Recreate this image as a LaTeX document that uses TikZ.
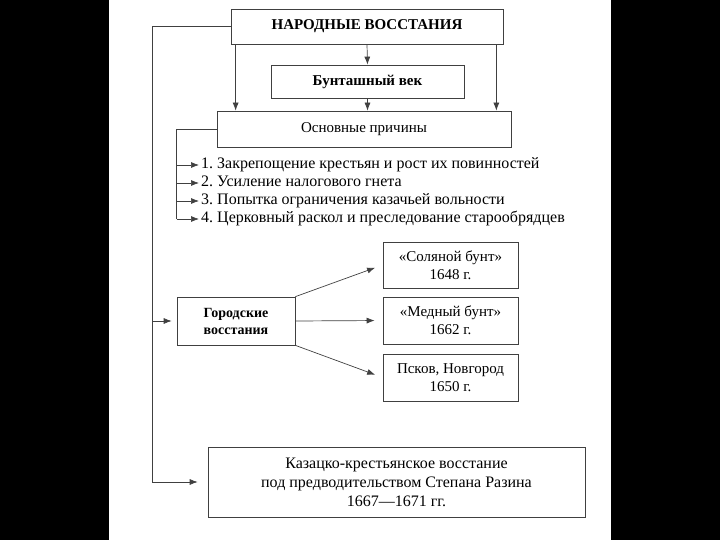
\documentclass[tikz,border=0pt]{standalone}
\usepackage{fontspec}
\setmainfont{Liberation Serif}
\usetikzlibrary{arrows.meta}

\tikzset{
  box/.style={draw=black!75, line width=0.7pt, align=center, inner sep=2pt,
    font=\fontsize{15}{18}\selectfont},
  boldbox/.style={box, font=\fontsize{15}{18}\selectfont\bfseries},
  cause/.style={anchor=west, inner sep=2pt, text height=10.5pt, text depth=3.5pt,
    font=\fontsize{16}{18}\selectfont},
  link/.style={draw=black!75, line width=0.7pt},
  arr/.style={-{Latex[length=8pt,width=6pt]}},
}

\begin{document}
\frenchspacing
\begin{tikzpicture}[x=1pt, y=-1pt]
    \useasboundingbox (0,0) rectangle (720,540);
    \fill[black] (0,0) rectangle (109,540);
    \fill[black] (611,0) rectangle (720,540);

    \node[boldbox, minimum width=272pt, minimum height=35pt] (title) at (367,26.5) {НАРОДНЫЕ ВОССТАНИЯ};
    \node[boldbox, minimum width=193pt, minimum height=33pt] (bunt) at (367.5,81.5) {Бунташный век};
    \node[box, minimum width=294pt, minimum height=36pt] (osn) at (364,129) {Основные причины};

    \draw[link, arr] (title.south) -- (bunt.north);
    \draw[link, arr] (bunt.south) -- (bunt.south |- osn.north);
    \draw[link, arr] ([xshift=5pt]title.south west) -- ([xshift=5pt]title.south west |- osn.north);
    \draw[link, arr] ([xshift=-7pt]title.south east) -- ([xshift=-7pt]title.south east |- osn.north);

    % causes
    \foreach \n/\y/\t in {1/165/{1. Закрепощение крестьян и рост их повинностей},
                          2/183/{2. Усиление налогового гнета},
                          3/201/{3. Попытка ограничения казачьей вольности},
                          4/219/{4. Церковный раскол и преследование старообрядцев}}
        \node[cause] (cause\n) at (199,\y) {\t};
    \draw[link] (osn.west) -- ++(-40,0) coordinate (fork) -- (fork |- cause4.west);
    \foreach \n in {1,...,4}
        \draw[link, arr] (fork |- cause\n.west) -- (cause\n.west);

    % town risings
    \node[boldbox, font=\fontsize{14}{17}\selectfont\bfseries, minimum width=118pt, minimum height=48pt] (gorod) at (236,321) {Городские\\восстания};
    \node[box, minimum width=135pt, minimum height=46pt] (soln) at (450.5,265) {«Соляной бунт»\\1648 г.};
    \node[box, minimum width=135pt, minimum height=47pt] (medn) at (450.5,320.5) {«Медный бунт»\\1662 г.};
    \node[box, minimum width=135pt, minimum height=47pt] (pskov) at (450.5,377.5) {Псков, Новгород\\1650 г.};

    \draw[link, arr, shorten >=8pt] (gorod.north east) -- (soln.west);
    \draw[link, arr, shorten >=8pt] (gorod.east) -- (medn.west);
    \draw[link, arr, shorten >=8pt] (gorod.south east) -- (pskov.west);

    \node[box, font=\fontsize{16}{19}\selectfont, minimum width=377pt, minimum height=70pt] (razin) at (396.5,482)
        {Казацко-крестьянское восстание\\под предводительством Степана Разина\\1667—1671 гг.};

    \coordinate (spine) at (152,482);
    \draw[link, arr, shorten >=10pt] (title.west) -| (spine) -- (razin.west);
    \draw[link, arr, shorten >=5pt] (spine |- gorod.west) -- (gorod.west);
\end{tikzpicture}
\end{document}
